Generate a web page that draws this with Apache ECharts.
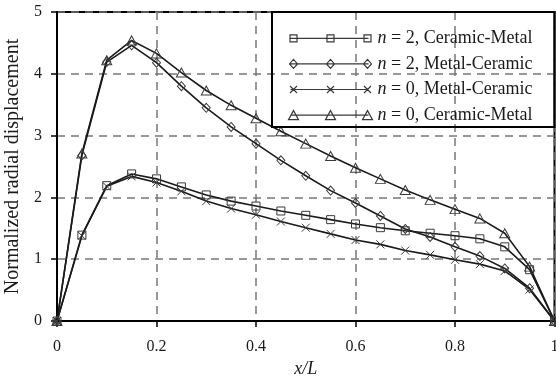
<!DOCTYPE html>
<html>
<head>
<meta charset="utf-8">
<script src="https://cdn.jsdelivr.net/npm/echarts@6/dist/echarts.min.js"></script>
<style>
  html, body { margin: 0; padding: 0; background: #fff; }
  #chart { width: 556px; height: 377px; }
</style>
</head>
<body>
<div id="chart"></div>
<script>
// Position along the cylinder (x/L)
const xPos = [0, 0.05, 0.1, 0.15, 0.2, 0.25, 0.3, 0.35, 0.4, 0.45, 0.5,
              0.55, 0.6, 0.65, 0.7, 0.75, 0.8, 0.85, 0.9, 0.95, 1];

// Normalized radial displacement for each gradation case
const n2CeramicMetal = [0, 1.39, 2.19, 2.38, 2.30, 2.17, 2.04, 1.94, 1.86, 1.78, 1.71,
                        1.64, 1.57, 1.51, 1.46, 1.42, 1.38, 1.33, 1.20, 0.83, 0];
const n2MetalCeramic = [0, 2.68, 4.19, 4.46, 4.18, 3.80, 3.45, 3.14, 2.87, 2.60, 2.35,
                        2.11, 1.91, 1.70, 1.49, 1.36, 1.20, 1.05, 0.85, 0.53, 0];
const n0MetalCeramic = [0, 1.38, 2.18, 2.34, 2.24, 2.10, 1.94, 1.82, 1.72, 1.61, 1.51,
                        1.41, 1.31, 1.24, 1.14, 1.07, 0.99, 0.92, 0.81, 0.51, 0];
const n0CeramicMetal = [0, 2.71, 4.22, 4.54, 4.33, 4.02, 3.73, 3.49, 3.28, 3.07, 2.87,
                        2.67, 2.48, 2.30, 2.12, 1.96, 1.81, 1.66, 1.42, 0.88, 0];

const seriesNames = ['n = 2, Ceramic-Metal', 'n = 2, Metal-Ceramic',
                     'n = 0, Metal-Ceramic', 'n = 0, Ceramic-Metal'];

const FONT = 'Liberation Serif';
const INK = '#1a1a1a';
const MARK = '#3a3a3a';

// Marker outlines as path strings
function squarePath(cx, cy, s) {
  const h = s / 2;
  return `M${cx - h} ${cy - h}L${cx + h} ${cy - h}L${cx + h} ${cy + h}L${cx - h} ${cy + h}Z`;
}
function diamondPath(cx, cy, w, h) {
  return `M${cx} ${cy - h / 2}L${cx + w / 2} ${cy}L${cx} ${cy + h / 2}L${cx - w / 2} ${cy}Z`;
}
function trianglePath(cx, cy, w, h) {
  return `M${cx} ${cy - h / 2}L${cx + w / 2} ${cy + h / 2}L${cx - w / 2} ${cy + h / 2}Z`;
}
function crossPath(cx, cy, s) {
  const h = s / 2;
  return `M${cx - h} ${cy - h}L${cx + h} ${cy + h}M${cx - h} ${cy + h}L${cx + h} ${cy - h}`;
}

// Legend sample: a line with three markers on it
const ICON_W = 84, ICON_H = 10;
const iconCenters = [5, 42, 79];
function legendIcon(markFn) {
  let p = `M0 0M${ICON_W} ${ICON_H}M2 5L80 5`;
  iconCenters.forEach(cx => { p += markFn(cx, 5); });
  return 'path://' + p;
}

const symbols = [
  { symbol: 'rect', size: 8, icon: legendIcon((cx, cy) => squarePath(cx, cy, 7)) },
  { symbol: 'diamond', size: [8, 9], icon: legendIcon((cx, cy) => diamondPath(cx, cy, 8, 9)) },
  { symbol: 'path://M0 0L10 10M0 10L10 0', size: 8, icon: legendIcon((cx, cy) => crossPath(cx, cy, 7)) },
  { symbol: 'triangle', size: [10, 9], icon: legendIcon((cx, cy) => trianglePath(cx, cy, 10, 9)) }
];

const valueSets = [n2CeramicMetal, n2MetalCeramic, n0MetalCeramic, n0CeramicMetal];

const series = valueSets.map((vals, k) => ({
  name: seriesNames[k],
  type: 'line',
  data: xPos.map((x, i) => [x, vals[i]]),
  symbol: symbols[k].symbol,
  symbolSize: symbols[k].size,
  showAllSymbol: true,
  animation: false,
  lineStyle: { color: INK, width: 1.6 },
  itemStyle: { color: 'none', borderColor: MARK, borderWidth: 1 },
  emphasis: { disabled: true }
}));

const chart = echarts.init(document.getElementById('chart'), null, { renderer: 'canvas' });

const dashed = { type: [8, 6], color: '#777', width: 1.5 };

chart.setOption({
  backgroundColor: '#fff',
  animation: false,
  grid: {
    left: 57, right: 1.5, top: 12, bottom: 56,
    containLabel: false,
    outerBoundsMode: 'none',
    show: true, borderColor: '#000', borderWidth: 2, backgroundColor: 'transparent'
  },
  xAxis: {
    type: 'value', min: 0, max: 1, interval: 0.2,
    name: 'x/L', nameLocation: 'middle', nameGap: 38,
    nameTextStyle: { fontFamily: FONT, fontSize: 18, fontStyle: 'italic', color: INK },
    axisLine: { show: true, lineStyle: { color: '#000', width: 2 } },
    axisTick: { show: true, inside: false, length: 6, lineStyle: { color: '#000', width: 1.5 } },
    axisLabel: { fontFamily: FONT, fontSize: 16, color: INK, margin: 18 },
    splitLine: { show: true, lineStyle: dashed }
  },
  yAxis: {
    type: 'value', min: 0, max: 5, interval: 1,
    name: 'Normalized radial displacement', nameLocation: 'middle', nameGap: 31,
    nameTextStyle: { fontFamily: FONT, fontSize: 20, color: INK },
    axisLine: { show: true, lineStyle: { color: '#000', width: 2 } },
    axisTick: { show: true, inside: false, length: 6, lineStyle: { color: '#000', width: 1.5 } },
    axisLabel: { fontFamily: FONT, fontSize: 16, color: INK, margin: 15 },
    splitLine: { show: true, lineStyle: dashed }
  },
  legend: {
    orient: 'vertical',
    left: 286, top: 29.3,
    padding: 0,
    itemGap: 7.6,
    itemWidth: ICON_W, itemHeight: ICON_H,
    symbolKeepAspect: true,
    selectedMode: false,
    itemStyle: { color: 'none', borderColor: MARK, borderWidth: 1.2 },
    data: seriesNames.map((n, k) => ({ name: n, icon: symbols[k].icon })),
    formatter: name => '{it|n}' + name.slice(1),
    textStyle: {
      fontFamily: FONT, fontSize: 18, color: INK,
      rich: { it: { fontFamily: FONT, fontSize: 18, fontStyle: 'italic', color: INK } }
    }
  },
  graphic: [{
    type: 'rect',
    shape: { x: 272, y: 12, width: 282.5, height: 115 },
    style: { fill: 'none', stroke: '#000', lineWidth: 2 },
    z: 10
  }],
  series: series
});
</script>
</body>
</html>
